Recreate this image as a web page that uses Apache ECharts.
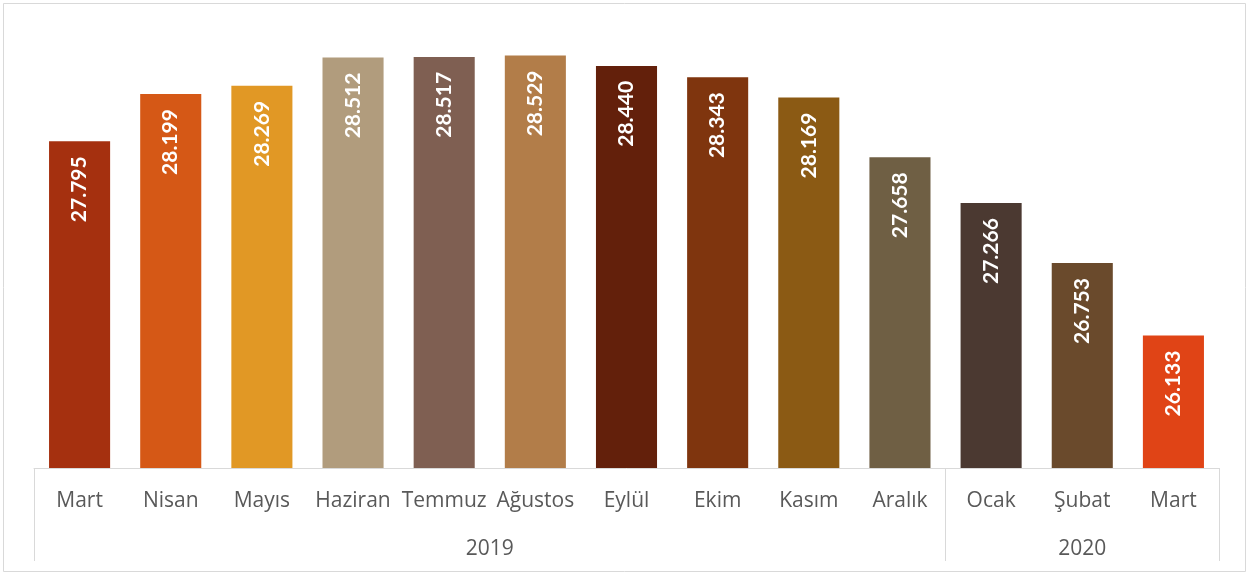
<!DOCTYPE html>
<html>
<head>
<meta charset="utf-8">
<script src="https://cdn.jsdelivr.net/npm/echarts@6/dist/echarts.min.js"></script>
<style>
html,body{margin:0;padding:0;background:#fff;}
#c{width:1249px;height:575px;}
</style>
</head>
<body>
<div id="c"></div>
<script>
const months = ['Mart','Nisan','Mayıs','Haziran','Temmuz','Ağustos','Eylül','Ekim','Kasım','Aralık','Ocak','Şubat','Mart'];
const values = [27.795, 28.199, 28.269, 28.512, 28.517, 28.529, 28.440, 28.343, 28.169, 27.658, 27.266, 26.753, 26.133];
const years = ['2019', '2020'];
const yearSpans = [[0, 10], [10, 13]];
const barColors = ['#A5300F','#D55816','#E19825','#B19C7D','#7F5F52','#B27D49','#63200B','#7F350E','#8B5A14','#6F5F44','#4B3931','#6A4A2C','#E04416'];

const yearBounds = [0].concat(yearSpans.map(s => s[1]));
const yearCenters = yearSpans.map(s => (s[0] + s[1]) / 2);

const chart = echarts.init(document.getElementById('c'), null, {renderer: 'canvas'});
chart.setOption({
  animation: false,
  backgroundColor: '#fff',
  graphic: [{
    type: 'rect', shape: {x: 3.5, y: 3.5, width: 1242, height: 568},
    style: {fill: 'none', stroke: '#d9d9d9', lineWidth: 1}, silent: true, z: -1
  }],
  grid: {left: 34, right: 30, top: 23.8, bottom: 107, containLabel: false},
  xAxis: [{
    type: 'category', data: months, gridIndex: 0,
    axisLine: {show: true, lineStyle: {color: '#d9d9d9', width: 1}},
    axisTick: {show: false},
    axisLabel: {color: '#595959', fontSize: 21, fontFamily: 'Open Sans', margin: 23, interval: 0}
  }, {
    type: 'value', min: 0, max: 13, gridIndex: 0, position: 'bottom',
    axisLine: {show: false},
    splitLine: {show: false},
    axisTick: {show: true, customValues: yearBounds, length: 93, lineStyle: {color: '#d9d9d9', width: 1}},
    axisLabel: {
      show: true, customValues: yearCenters, margin: 71,
      color: '#595959', fontSize: 21, fontFamily: 'Open Sans',
      formatter: v => years[yearCenters.indexOf(v)]
    }
  }],
  yAxis: {
    type: 'value', min: 25, max: 28.8, show: false, splitLine: {show: false}
  },
  series: [{
    type: 'bar', xAxisIndex: 0,
    data: values.map((v, i) => ({value: v, itemStyle: {color: barColors[i]}})),
    barWidth: '67%',
    label: {
      show: true, position: 'insideTop', rotate: 90, align: 'right', verticalAlign: 'middle',
      distance: 15, color: '#fff', fontWeight: 'bold', fontSize: 21, fontFamily: 'Lato',
      formatter: p => p.value.toFixed(3)
    }
  }]
});
</script>
</body>
</html>
